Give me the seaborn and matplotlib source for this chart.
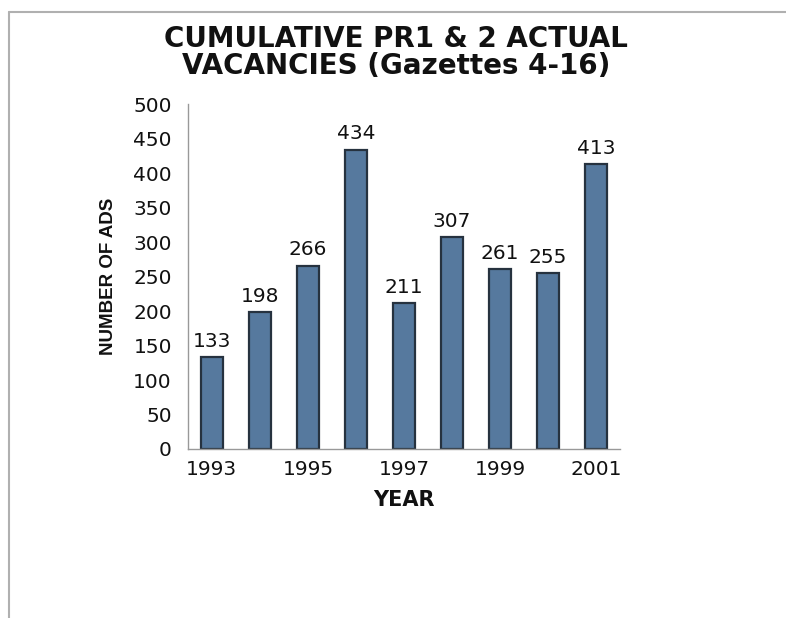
import matplotlib
matplotlib.use('Agg')
import matplotlib.pyplot as plt
from matplotlib.lines import Line2D
import seaborn as sns
import pandas as pd

years = ['1993', '1994', '1995', '1996', '1997', '1998', '1999', '2000', '2001']
ads = [133, 198, 266, 434, 211, 307, 261, 255, 413]
shown_years = ['1993', '', '1995', '', '1997', '', '1999', '', '2001']
yticks = [0, 50, 100, 150, 200, 250, 300, 350, 400, 450, 500]

sns.set_style('white')
plt.rcParams['font.family'] = ['DejaVu Sans']

df = pd.DataFrame({'year': years, 'ads': ads})

fig = plt.figure(figsize=(7.86, 6.18), dpi=100)
ax = fig.add_axes([0.239, 0.2735, 0.55, 0.558])

sns.barplot(data=df, x='year', y='ads', color='#56799e', width=0.45,
            edgecolor='#26323f', linewidth=1.6, saturation=1, ax=ax)

# value labels on top of bars
for i, v in enumerate(ads):
    ax.text(i, v + 9, str(v), ha='center', va='bottom', fontsize=14.5, color='#111111')

ax.set_ylim(0, 500)
ax.set_xlim(-0.5, len(years) - 0.5)
ax.set_yticks(yticks)
ax.set_xticks(range(len(years)))
ax.set_xticklabels(shown_years)
ax.set_xticks([i - 0.5 for i in range(len(years))], minor=True)
ax.tick_params(axis='x', which='major', length=0, labelsize=14.5, pad=8, labelcolor='#111111')
ax.tick_params(axis='x', which='minor', length=9, direction='inout', color='#888888', width=0.8)
ax.tick_params(axis='y', length=11, direction='inout', color='#aaaaaa', width=0.8,
               labelsize=14.5, pad=6, labelcolor='#111111')

for s in ['top', 'right']:
    ax.spines[s].set_visible(False)
for s in ['left', 'bottom']:
    ax.spines[s].set_color('#999999')
    ax.spines[s].set_linewidth(1)

ax.set_xlabel('YEAR', fontsize=15, fontweight='bold', labelpad=8, color='#111111')
ax.set_ylabel('NUMBER OF ADS', fontsize=13.5, fontweight='bold', labelpad=12, color='#111111',
              family=['Liberation Sans', 'DejaVu Sans'])

fig.text(0.504, 0.960, 'CUMULATIVE PR1 & 2 ACTUAL\nVACANCIES (Gazettes 4-16)',
         ha='center', va='top', fontsize=20, fontweight='bold', linespacing=0.98, color='#111111')

# thin frame along top and left edges
fig.add_artist(Line2D([0.0115, 1.0], [0.981, 0.981], color='#b0b0b0', lw=1.5, transform=fig.transFigure))
fig.add_artist(Line2D([0.0115, 0.0115], [0.0, 0.981], color='#b0b0b0', lw=1.5, transform=fig.transFigure))

fig.savefig('out.png', dpi=100)
